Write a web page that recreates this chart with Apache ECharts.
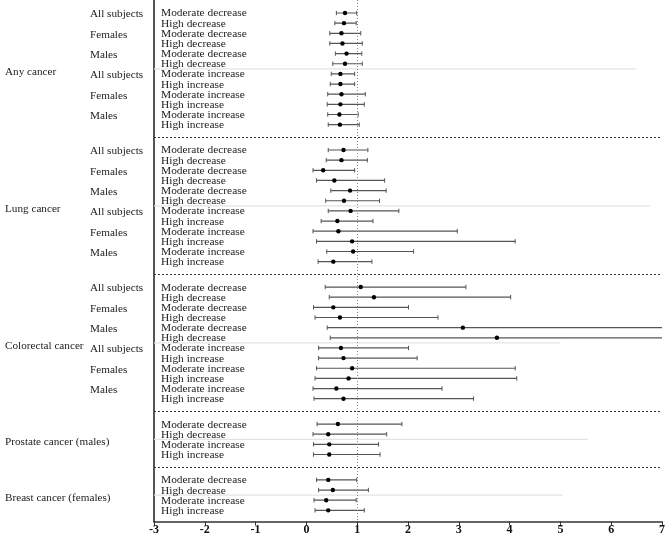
<!DOCTYPE html>
<html><head><meta charset="utf-8">
<script src="https://cdn.jsdelivr.net/npm/echarts@6/dist/echarts.min.js"></script>
<style>html,body{margin:0;padding:0;background:#fff}#c{width:668px;height:539px}</style>
</head><body><div id="c"></div>
<script>
// ---------- DATA ----------
const groupNames = ["Any cancer", "Lung cancer", "Colorectal cancer", "Prostate cancer (males)", "Breast cancer (females)"];
const subgroupNames = ["All subjects", "Females", "Males", "All subjects", "Females", "Males"];
const rowLabels12 = ["Moderate decrease", "High decrease", "Moderate decrease", "High decrease", "Moderate decrease", "High decrease",
                     "Moderate increase", "High increase", "Moderate increase", "High increase", "Moderate increase", "High increase"];
const rowLabels4 = ["Moderate decrease", "High decrease", "Moderate increase", "High increase"];

const anyEst = [0.76, 0.74, 0.69, 0.71, 0.79, 0.76, 0.67, 0.67, 0.69, 0.67, 0.65, 0.66];
const anyLo  = [0.59, 0.56, 0.46, 0.46, 0.57, 0.52, 0.49, 0.47, 0.42, 0.41, 0.42, 0.43];
const anyHi  = [0.99, 0.98, 1.07, 1.10, 1.09, 1.10, 0.95, 0.95, 1.16, 1.14, 1.02, 1.04];

const lungEst = [0.73, 0.69, 0.33, 0.55, 0.86, 0.74, 0.87, 0.61, 0.63, 0.90, 0.92, 0.53];
const lungLo  = [0.43, 0.39, 0.13, 0.20, 0.48, 0.38, 0.43, 0.29, 0.13, 0.20, 0.40, 0.23];
const lungHi  = [1.21, 1.20, 0.95, 1.54, 1.57, 1.44, 1.82, 1.31, 2.97, 4.11, 2.11, 1.29];

const crcEst = [1.07, 1.33, 0.53, 0.66, 3.08, 3.75, 0.68, 0.73, 0.90, 0.83, 0.59, 0.73];
const crcLo  = [0.37, 0.45, 0.14, 0.17, 0.41, 0.47, 0.24, 0.24, 0.20, 0.17, 0.13, 0.15];
const crcHi  = [3.14, 4.02, 2.01, 2.59, 7.5, 7.5, 2.01, 2.18, 4.11, 4.14, 2.67, 3.29];

const prostEst = [0.62, 0.43, 0.45, 0.45];
const prostLo  = [0.21, 0.13, 0.14, 0.14];
const prostHi  = [1.88, 1.58, 1.42, 1.45];

const breastEst = [0.43, 0.52, 0.39, 0.43];
const breastLo  = [0.20, 0.24, 0.15, 0.17];
const breastHi  = [0.99, 1.22, 0.98, 1.14];

const fadeLineEnds = [6.5, 6.77, 5.0, 5.54, 5.04];
const xTicks = [-3, -2, -1, 0, 1, 2, 3, 4, 5, 6, 7];
const refValue = 1;

// ---------- BUILD ----------
const groups = [
  {est: anyEst, lo: anyLo, hi: anyHi, labels: rowLabels12, subs: subgroupNames},
  {est: lungEst, lo: lungLo, hi: lungHi, labels: rowLabels12, subs: subgroupNames},
  {est: crcEst, lo: crcLo, hi: crcHi, labels: rowLabels12, subs: subgroupNames},
  {est: prostEst, lo: prostLo, hi: prostHi, labels: rowLabels4, subs: []},
  {est: breastEst, lo: breastLo, hi: breastHi, labels: rowLabels4, subs: []}
];
const GAP = 1.5;
const xMin = xTicks[0], xMax = xTicks[xTicks.length - 1];
let pos = 0;
const barData = [], rowText = [], subText = [], groupText = [], separators = [], fades = [];
groups.forEach((g, gi) => {
  if (gi > 0) { separators.push(pos - 1 + (1 + GAP) / 2); pos += GAP; }
  const first = pos;
  g.est.forEach((e, i) => {
    barData.push([pos, g.lo[i], e, g.hi[i]]);
    rowText.push({pos: pos, text: g.labels[i]});
    if (i % 2 === 0 && g.subs.length) subText.push({pos: pos, text: g.subs[i / 2]});
    pos++;
  });
  const last = pos - 1;
  const n = g.est.length;
  fades.push([first + (n / 2 - 0.5), fadeLineEnds[gi]]);
  groupText.push({pos: (first + last) / 2, text: groupNames[gi]});
});

const serif = '"Liberation Serif", "Times New Roman", serif';

const chart = echarts.init(document.getElementById('c'), null, {renderer: 'canvas'});
chart.setOption({
  animation: false,
  grid: {left: 154, right: 3.3, top: 0, bottom: 17.5},
  xAxis: {
    type: 'value', min: xMin, max: xMax, interval: 1,
    axisLine: {onZero: false, lineStyle: {color: '#333', width: 1.5}},
    axisTick: {length: 4, lineStyle: {color: '#333', width: 1}},
    axisLabel: {fontFamily: serif, fontWeight: 'bold', fontSize: 12, color: '#111', margin: 2},
    splitLine: {show: false}
  },
  yAxis: {
    type: 'value', inverse: true, min: -1.28, max: 50.1,
    axisLine: {show: true, onZero: false, lineStyle: {color: '#555', width: 2}},
    axisTick: {show: false}, axisLabel: {show: false}, splitLine: {show: false}
  },
  series: [
    {
      type: 'custom', name: 'fade', clip: true, z: 1,
      data: fades,
      renderItem: function (params, api) {
        const y = api.value(0);
        const a = api.coord([xMin, y]), b = api.coord([api.value(1), y]);
        return {type: 'line', shape: {x1: a[0], y1: a[1], x2: b[0], y2: b[1]},
                style: {stroke: '#e4e4e4', lineWidth: 1.2}};
      }
    },
    {
      type: 'custom', name: 'bars', clip: true, z: 3,
      data: barData,
      encode: {x: [1, 2, 3], y: 0},
      renderItem: function (params, api) {
        const y = api.value(0);
        const pl = api.coord([api.value(1), y]);
        const pe = api.coord([api.value(2), y]);
        const hiV = api.value(3);
        const ph = api.coord([Math.min(hiV, xMax + 0.1), y]);
        const stroke = '#555';
        const ch = [
          {type: 'line', shape: {x1: pl[0], y1: pl[1], x2: ph[0], y2: ph[1]}, style: {stroke: stroke, lineWidth: 1.2}},
          {type: 'line', shape: {x1: pl[0], y1: pl[1] - 2.2, x2: pl[0], y2: pl[1] + 2.2}, style: {stroke: stroke, lineWidth: 1}},
          {type: 'circle', shape: {cx: pe[0], cy: pe[1], r: 2.2}, style: {fill: '#000'}}
        ];
        if (hiV <= xMax) ch.push({type: 'line', shape: {x1: ph[0], y1: ph[1] - 2.2, x2: ph[0], y2: ph[1] + 2.2}, style: {stroke: stroke, lineWidth: 1}});
        return {type: 'group', children: ch};
      },
      markLine: {
        silent: true, symbol: 'none', label: {show: false},
        data: [{xAxis: refValue, lineStyle: {type: [1, 2], color: '#888', width: 1}}]
          .concat(separators.map(s => ({yAxis: s, lineStyle: {type: [2, 2], color: '#333', width: 1}})))
      }
    },
    {
      type: 'custom', name: 'rowText', clip: false, z: 4,
      data: rowText.map(r => [xMin, r.pos]),
      renderItem: function (params, api) {
        const c = api.coord([api.value(0), api.value(1)]);
        return {type: 'text', x: c[0] + 7, y: c[1] + 0.5,
                style: {text: rowText[params.dataIndex].text, fontFamily: serif, fontSize: 11.4, fill: '#222', align: 'left', verticalAlign: 'middle'}};
      }
    },
    {
      type: 'custom', name: 'subText', clip: false, z: 4,
      data: subText.map(r => [xMin, r.pos]),
      renderItem: function (params, api) {
        const c = api.coord([api.value(0), api.value(1)]);
        return {type: 'text', x: c[0] - 64, y: c[1] + 1.5,
                style: {text: subText[params.dataIndex].text, fontFamily: serif, fontSize: 11.2, fill: '#222', align: 'left', verticalAlign: 'middle'}};
      }
    },
    {
      type: 'custom', name: 'groupText', clip: false, z: 4,
      data: groupText.map(r => [xMin, r.pos]),
      renderItem: function (params, api) {
        const c = api.coord([api.value(0), api.value(1)]);
        return {type: 'text', x: c[0] - 149, y: c[1] + 3,
                style: {text: groupText[params.dataIndex].text, fontFamily: serif, fontSize: 11.2, fill: '#222', align: 'left', verticalAlign: 'middle'}};
      }
    }
  ]
});
</script></body></html>
